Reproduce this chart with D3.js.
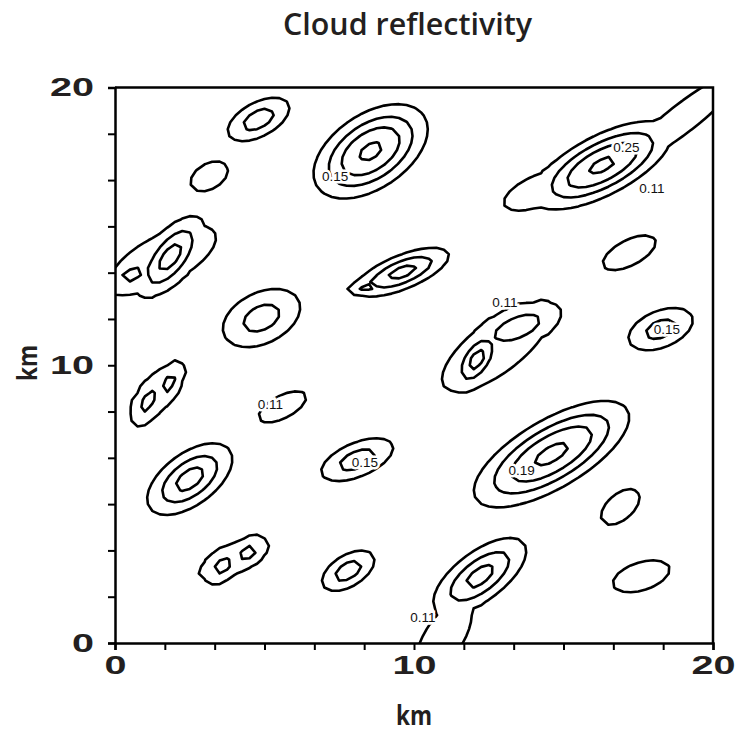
<!DOCTYPE html>
<html>
<head>
<meta charset="utf-8">
<script src="https://cdn.jsdelivr.net/npm/d3@7/dist/d3.min.js"></script>
<style>
	body { margin: 0; background: #fff; }
</style>
</head>
<body>
<div id="chart"></div>
<script>
// Contour levels of reflectivity.
const levels = [ 0.11, 0.15, 0.19, 0.25 ];

// Cloud cells: centre (km), peak value,
// half length / half width of the 0.11 contour (km), tilt (deg).
const cellX     = [ 4.8, 3.15, 8.55, 16.3, 19.0, 14.2, 1.85, 0.55, 1.6, 4.9, 9.6, 8.45, 17.2, 12.1, 13.45, 12.75, 18.25, 1.1, 1.8, 1.4, 5.6, 2.5, 8.1, 3.6, 4.45, 3.85, 7.8, 14.6, 16.9, 17.6, 12.2, 11.0 ];
const cellY     = [ 18.85, 16.8, 17.7, 17.2, 18.9, 16.3, 13.9, 13.25, 13.8, 11.7, 13.35, 12.85, 14.05, 10.2, 11.35, 10.65, 11.3, 8.7, 9.35, 9.0, 8.5, 5.9, 6.6, 2.78, 3.25, 3.0, 2.6, 6.8, 4.9, 2.4, 2.4, 0.2 ];
const cellPeak  = [ 0.185, 0.13, 0.28, 0.28, 0.13, 0.12, 0.225, 0.175, 0.125, 0.18, 0.22, 0.175, 0.125, 0.225, 0.188, 0.125, 0.18, 0.175, 0.175, 0.125, 0.125, 0.225, 0.185, 0.175, 0.175, 0.125, 0.185, 0.285, 0.125, 0.125, 0.22, 0.13 ];
const cellLong  = [ 1.15, 0.7, 2.2, 2.6, 2.5, 1.3, 1.7, 0.9, 2.0, 1.4, 1.7, 0.7, 1.0, 1.2, 1.6, 2.25, 1.15, 0.98, 0.86, 1.15, 0.9, 1.7, 1.3, 0.77, 0.75, 1.15, 1.0, 3.0, 0.8, 1.0, 1.9, 1.5 ];
const cellWide  = [ 0.6, 0.45, 1.3, 1.05, 0.5, 0.55, 0.75, 0.47, 0.85, 0.9, 0.6, 0.3, 0.45, 0.6, 0.7, 0.9, 0.65, 0.42, 0.38, 0.55, 0.4, 0.9, 0.6, 0.5, 0.47, 0.5, 0.55, 1.2, 0.45, 0.5, 0.85, 0.65 ];
const cellAngle = [ 31, 35, 38, 30, 40, 25, 55, 30, 30, 30, 24, 15, 30, 60, 25, 40, 25, 65, 65, 55, 30, 40, 25, 45, 40, 30, 35, 33, 45, 20, 40, 60 ];

// Inline contour labels.
const labelText = [ '0.15', '0.25', '0.11', '0.11', '0.15', '0.11', '0.15', '0.19', '0.11' ];
const labelX    = [ 7.36, 17.1, 17.96, 13.04, 18.46, 5.2, 8.36, 13.6, 10.3 ];
const labelY    = [ 16.8, 17.85, 16.36, 12.25, 11.28, 8.6, 6.52, 6.23, 0.94 ];

// Axes.
const tickValues = [ 0, 5 / 3, 10 / 3, 5, 20 / 3, 25 / 3, 10, 35 / 3, 40 / 3, 15, 50 / 3, 55 / 3, 20 ];
const tickLabels = { 0: '0', 10: '10', 20: '20' };

let dimensions = {
	width  : 738,
	height : 734,
	margin : {
		top    : 87.5,
		right  : 25,
		bottom : 91,
		left   : 115
	}
};
dimensions.boundedWidth = dimensions.width - dimensions.margin.left - dimensions.margin.right;
dimensions.boundedHeight = dimensions.height - dimensions.margin.top - dimensions.margin.bottom;

const svg = d3
	.select('#chart')
	.append('svg')
	.attr('width', dimensions.width)
	.attr('height', dimensions.height);

const x = d3.scaleLinear().domain([ 0, 20 ]).range([ dimensions.margin.left, dimensions.margin.left + dimensions.boundedWidth ]);
const y = d3.scaleLinear().domain([ 0, 20 ]).range([ dimensions.margin.top + dimensions.boundedHeight, dimensions.margin.top ]);

// Sample the field on a 0.25 km grid that runs a little past the frame.
const step = 0.25,
	start = -0.25,
	n = 83;
const shape = 1.3;

const cells = cellX.map(function(cx, i) {
	const k = Math.pow(Math.log(cellPeak[i] / levels[0]), 1 / shape);
	const a = cellAngle[i] * Math.PI / 180;
	return { cx: cx, cy: cellY[i], peak: cellPeak[i], sa: cellLong[i] / k, sb: cellWide[i] / k, cos: Math.cos(a), sin: Math.sin(a) };
});

const values = new Array(n * n);
for (let j = 0; j < n; j++) {
	for (let i = 0; i < n; i++) {
		const px = start + i * step,
			py = start + j * step;
		let v = 0;
		cells.forEach(function(c) {
			const dx = px - c.cx,
				dy = py - c.cy;
			const u = (dx * c.cos + dy * c.sin) / c.sa,
				w = (-dx * c.sin + dy * c.cos) / c.sb;
			const r = Math.sqrt(u * u + w * w);
			v = Math.max(v, c.peak * Math.exp(-Math.pow(r, shape)));
		});
		values[j * n + i] = v;
	}
}

const contours = d3.contours().size([ n, n ]).thresholds(levels)(values);

const project = d3.geoTransform({
	point: function(gx, gy) {
		this.stream.point(x(start + (gx - 0.5) * step), y(start + (gy - 0.5) * step));
	}
});
const path = d3.geoPath(project);

svg
	.append('defs')
	.append('clipPath')
	.attr('id', 'plot-clip')
	.append('rect')
	.attr('x', dimensions.margin.left)
	.attr('y', dimensions.margin.top)
	.attr('width', dimensions.boundedWidth)
	.attr('height', dimensions.boundedHeight);

const plot = svg.append('g').attr('clip-path', 'url(#plot-clip)');

plot
	.selectAll('path')
	.data(contours)
	.enter()
	.append('path')
	.attr('d', path)
	.attr('fill', 'none')
	.attr('stroke', '#000')
	.attr('stroke-width', 2.6)
	.attr('stroke-linejoin', 'round');

// Labels sit in a gap of the line.
plot
	.selectAll('text')
	.data(labelText)
	.enter()
	.append('text')
	.attr('x', function(d, i) {
		return x(labelX[i]);
	})
	.attr('y', function(d, i) {
		return y(labelY[i]);
	})
	.attr('dy', '0.35em')
	.attr('text-anchor', 'middle')
	.attr('font-family', 'Liberation Sans, Arial, sans-serif')
	.attr('font-size', 13.5)
	.attr('fill', '#111')
	.attr('stroke', '#fff')
	.attr('stroke-width', 5)
	.attr('paint-order', 'stroke')
	.text(function(d) {
		return d;
	});

// Frame.
svg
	.append('path')
	.attr('d', `M${x(0)},${y(20)}H${x(20)}V${y(0)}`)
	.attr('fill', 'none')
	.attr('stroke', '#000')
	.attr('stroke-width', 2.5);

const fmt = function(d) {
	const key = Math.round(d * 1000) / 1000;
	return tickLabels[key] || '';
};

const yAxis = svg
	.append('g')
	.attr('transform', `translate(${x(0)},0)`)
	.call(d3.axisLeft(y).tickValues(tickValues).tickSize(7).tickPadding(14).tickFormat(fmt));

const xAxis = svg
	.append('g')
	.attr('transform', `translate(0,${y(0)})`)
	.call(d3.axisBottom(x).tickValues(tickValues).tickSize(7).tickPadding(6).tickFormat(fmt));

[ xAxis, yAxis ].forEach(function(axis) {
	axis.select('.domain').attr('stroke', '#000').attr('stroke-width', 2.5);
	axis.selectAll('.tick line').attr('stroke', '#000').attr('stroke-width', 2);
	axis
		.selectAll('.tick text')
		.attr('font-family', 'Liberation Sans, Arial, sans-serif')
		.attr('font-weight', 'bold')
		.attr('font-size', 26)
		.attr('fill', '#231f20')
		.attr('lengthAdjust', 'spacingAndGlyphs')
		.attr('textLength', function() {
			const t = d3.select(this).text();
			return t.length ? t.length * 22 : null;
		});
});

// Titles.
svg
	.append('text')
	.attr('x', 407.5)
	.attr('y', 35)
	.attr('text-anchor', 'middle')
	.attr('font-family', 'Open Sans, sans-serif')
	.attr('font-weight', 600)
	.attr('font-size', 30)
	.attr('fill', '#231f20')
	.attr('textLength', 249)
	.attr('lengthAdjust', 'spacingAndGlyphs')
	.text('Cloud reflectivity');

svg
	.append('text')
	.attr('x', 414)
	.attr('y', 725)
	.attr('text-anchor', 'middle')
	.attr('font-family', 'Open Sans, sans-serif')
	.attr('font-weight', 700)
	.attr('font-size', 26)
	.attr('fill', '#231f20')
	.attr('textLength', 36)
	.attr('lengthAdjust', 'spacingAndGlyphs')
	.text('km');

svg
	.append('text')
	.attr('transform', `translate(37,363) rotate(-90)`)
	.attr('text-anchor', 'middle')
	.attr('font-family', 'Open Sans, sans-serif')
	.attr('font-weight', 700)
	.attr('font-size', 26)
	.attr('fill', '#231f20')
	.attr('textLength', 36)
	.attr('lengthAdjust', 'spacingAndGlyphs')
	.text('km');
</script>
</body>
</html>
